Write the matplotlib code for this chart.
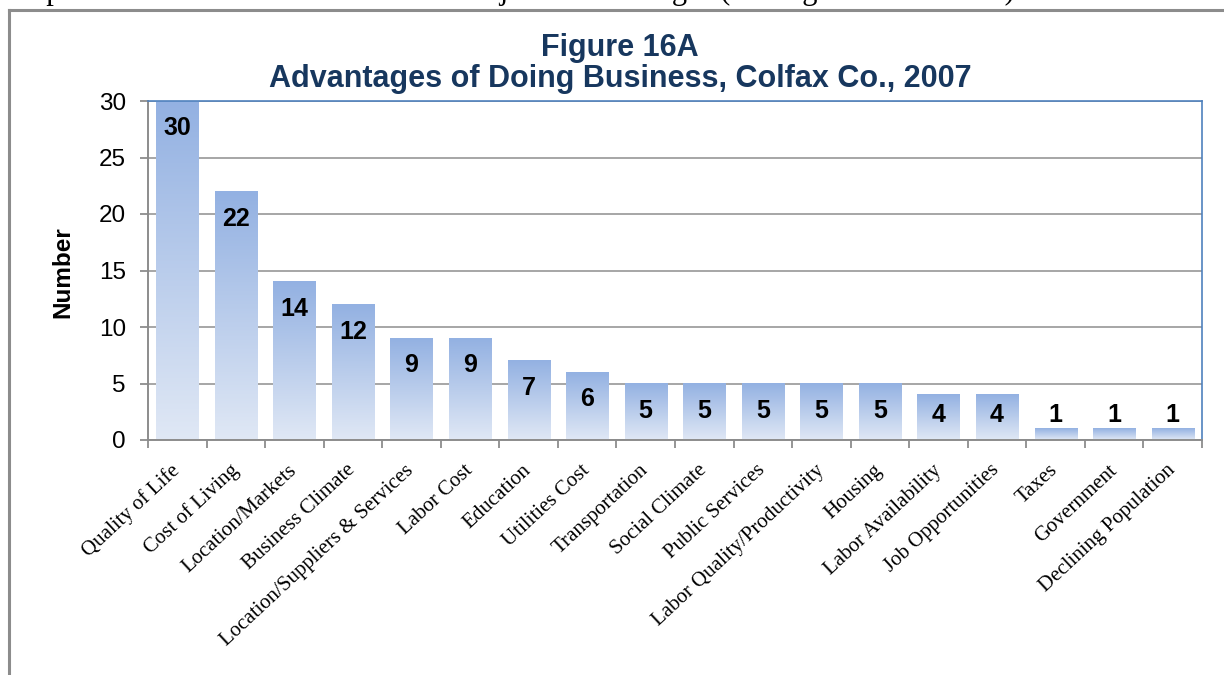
import numpy as np
import matplotlib
matplotlib.use("Agg")
import matplotlib.pyplot as plt
import matplotlib.transforms as mtransforms
from matplotlib.colors import LinearSegmentedColormap
from matplotlib.lines import Line2D

categories = [
    "Quality of Life", "Cost of Living", "Location/Markets", "Business Climate",
    "Location/Suppliers & Services", "Labor Cost", "Education", "Utilities Cost",
    "Transportation", "Social Climate", "Public Services",
    "Labor Quality/Productivity", "Housing", "Labor Availability",
    "Job Opportunities", "Taxes", "Government", "Declining Population",
]
values = [30, 22, 14, 12, 9, 9, 7, 6, 5, 5, 5, 5, 5, 4, 4, 1, 1, 1]
y_ticks = [0, 5, 10, 15, 20, 25, 30]
title_lines = ["Figure 16A", "Advantages of Doing Business, Colfax Co., 2007"]
y_label = "Number"
lead_text = "Population were viewed as the three major disadvantages (see Figure 16B and 17)."

W, H = 1224, 675
fig = plt.figure(figsize=(W / 100, H / 100), dpi=100)
fig.patch.set_facecolor("white")

sans = ["Liberation Sans", "DejaVu Sans"]
serif = ["Liberation Serif", "DejaVu Serif"]

# running text of the page above the chart box (clipped at the top edge)
fig.text(14 / W, 1 + 1 / H, lead_text, family=serif, fontsize=22,
         ha="left", va="baseline", color="black")

# chart box border
fig.add_artist(Line2D([9 / W, 9 / W], [0, 1 - 10 / H], color="#8c8c8c", lw=2.2,
                      transform=fig.transFigure))
fig.add_artist(Line2D([9 / W, 1], [1 - 10 / H, 1 - 10 / H], color="#8c8c8c", lw=2.2,
                      transform=fig.transFigure))

ax = fig.add_axes([148 / W, 1 - 440 / H, (1202 - 148) / W, (440 - 101) / H])

cmap = LinearSegmentedColormap.from_list("bar", ["#E0E8F5", "#93B1E2"])
grad = np.linspace(0, 1, 256).reshape(-1, 1)
bw = 0.72
x = np.arange(len(categories))
for xi, v in zip(x, values):
    ax.imshow(grad, cmap=cmap, origin="lower", aspect="auto",
              extent=(xi - bw / 2, xi + bw / 2, 0, v), zorder=2)
    ty = max(v - 2.4, 2.25)
    ax.text(xi, ty, str(v), ha="center", va="center", family=sans,
            fontsize=18, fontweight="bold", color="black", zorder=3)

ax.set_xlim(-0.5, len(categories) - 0.5)
ax.set_ylim(0, 30)

ax.set_yticks(y_ticks)
ax.set_yticklabels([str(t) for t in y_ticks], family=sans, fontsize=17.5)
ax.yaxis.grid(True, color="#a6a6a6", lw=1.4, zorder=0)
ax.set_axisbelow(True)

ax.set_xticks(np.arange(-0.5, len(categories) + 0.5, 1.0))
ax.set_xticklabels([])
ax.set_xticks(x, minor=True)
ax.set_xticklabels(categories, minor=True, family=serif, fontsize=15,
                   rotation=43, ha="right", rotation_mode="anchor", va="center")
shift = mtransforms.ScaledTranslation(11 / 100, 0, fig.dpi_scale_trans)
for lbl in ax.get_xticklabels(minor=True):
    lbl.set_transform(lbl.get_transform() + shift)
ax.tick_params(axis="x", which="minor", length=0, pad=20)
ax.tick_params(axis="x", which="major", length=6, width=1.3, color="#8c8c8c", direction="out")
ax.tick_params(axis="y", length=6, width=1.3, color="#8c8c8c", pad=10)

for s in ("left", "bottom"):
    ax.spines[s].set_color("#8c8c8c")
    ax.spines[s].set_linewidth(1.4)
for s in ("top", "right"):
    ax.spines[s].set_color("#4F81BD")
    ax.spines[s].set_linewidth(1.2)

fig.text(63 / W, 1 - 272 / H, y_label, family=sans, fontsize=17.5,
         fontweight="bold", rotation=90, ha="center", va="center")

fig.text(620 / W, 1 - 48 / H, title_lines[0], family=sans, fontsize=22,
         fontweight="bold", color="#17375E", ha="center", va="center")
fig.text(620 / W, 1 - 79 / H, title_lines[1], family=sans, fontsize=22,
         fontweight="bold", color="#17375E", ha="center", va="center")

fig.savefig("out.png", dpi=100, facecolor="white")
